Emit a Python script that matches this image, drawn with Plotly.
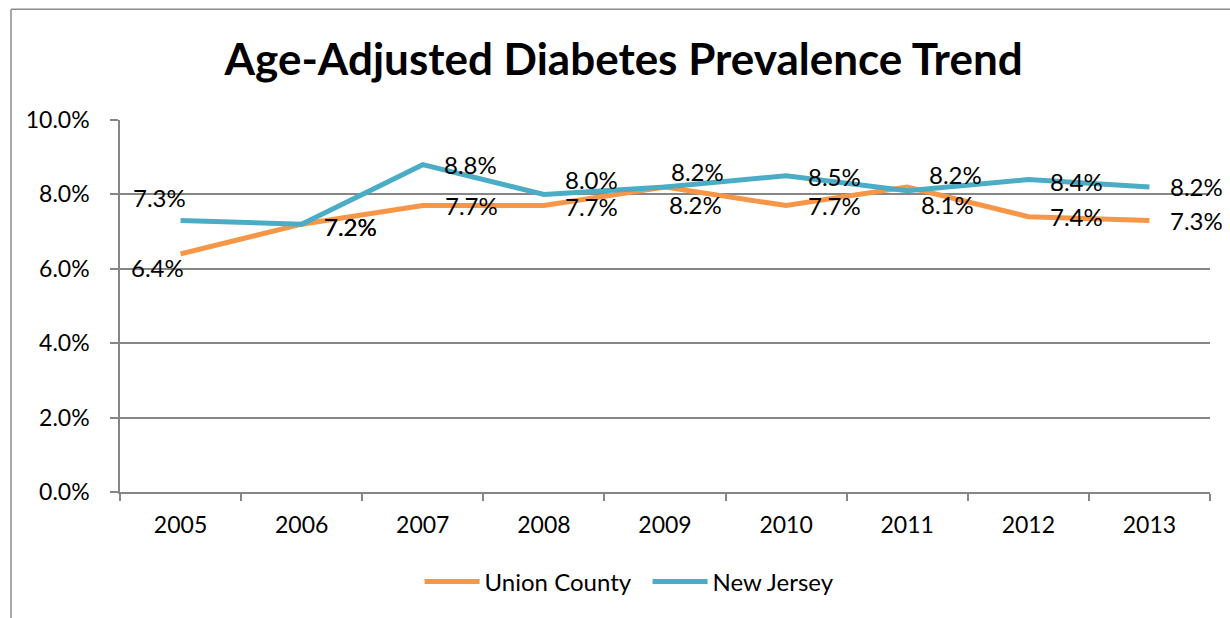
import plotly.graph_objects as go

years = ["2005", "2006", "2007", "2008", "2009", "2010", "2011", "2012", "2013"]
union_county = [6.4, 7.2, 7.7, 7.7, 8.2, 7.7, 8.2, 7.4, 7.3]
new_jersey = [7.3, 7.2, 8.8, 8.0, 8.2, 8.5, 8.1, 8.4, 8.2]
y_ticks = [0, 2, 4, 6, 8, 10]

# pixel offsets (dx, dy) of each value label from its point; dy positive = down
union_offsets = [(-23, 14), (49, 2), (49, 0), (48, 1), (30, 18), (48, 0), (48, -12), (48, 0), (47, 0)]
nj_offsets = [(-21, -23), (49, 2), (48, 0), (48, -15), (32, -15), (48, 1), (40, 14), (48, 2), (47, 0)]

ORANGE = "#F79646"
TEAL = "#4BACC6"
GRID = "#868686"
FONT = "Lato"

fig = go.Figure()
fig.add_trace(go.Scatter(x=years, y=union_county, name="Union County", mode="lines",
                         line=dict(color=ORANGE, width=5)))
fig.add_trace(go.Scatter(x=years, y=new_jersey, name="New Jersey", mode="lines",
                         line=dict(color=TEAL, width=5)))

# value labels next to each point (x given as category index)
for vals, offs in ((union_county, union_offsets), (new_jersey, nj_offsets)):
    for i, (v, (dx, dy)) in enumerate(zip(vals, offs)):
        fig.add_annotation(x=i, y=v, xref="x", yref="y", text=f"{v:.1f}%",
                           showarrow=False, xshift=dx, yshift=-dy,
                           xanchor="center", yanchor="middle",
                           font=dict(family=FONT, size=24, color="#000000"))

# chart frame (left and top edges)
fig.add_shape(type="line", xref="paper", yref="paper", x0=-0.1, x1=-0.1, y0=1.298, y1=-0.4,
              line=dict(color="#8C8C8C", width=1.5))
fig.add_shape(type="line", xref="paper", yref="paper", x0=-0.1, x1=1.05, y0=1.298, y1=1.298,
              line=dict(color="#8C8C8C", width=1.5))

fig.update_layout(
    width=1230, height=618,
    margin=dict(l=120, r=20, t=120, b=126),
    paper_bgcolor="white", plot_bgcolor="white",
    font=dict(family=FONT, size=23, color="#000000"),
    title=dict(text="<b>Age-Adjusted Diabetes Prevalence Trend</b>",
               x=0.507, xref="container", xanchor="center",
               y=0.903, yref="container", yanchor="middle",
               font=dict(family=FONT, size=44, color="#000000")),
    showlegend=True,
    legend=dict(orientation="h", x=0.484, xanchor="center", y=-0.242, yanchor="middle",
                font=dict(family=FONT, size=24), itemwidth=55, traceorder="normal",
                entrywidth=158, entrywidthmode="pixels"),
)

fig.update_xaxes(type="category", showgrid=False, showline=True, linecolor=GRID, linewidth=1.5,
                 ticks="outside", tickson="boundaries", ticklen=7, tickcolor=GRID, tickwidth=1.5,
                 ticklabelstandoff=12, tickfont=dict(family=FONT, size=23), range=[-0.5, 8.5])
fig.update_yaxes(range=[0, 10], tickvals=y_ticks, ticktext=[f"{t:.1f}%" for t in y_ticks],
                 showgrid=True, gridcolor=GRID, gridwidth=1.5, showline=True, linecolor=GRID,
                 linewidth=1.5, ticks="outside", ticklen=8, tickcolor=GRID, tickwidth=1.5,
                 ticklabelstandoff=16, zeroline=False, tickfont=dict(family=FONT, size=23))

fig.write_html("out.html")
